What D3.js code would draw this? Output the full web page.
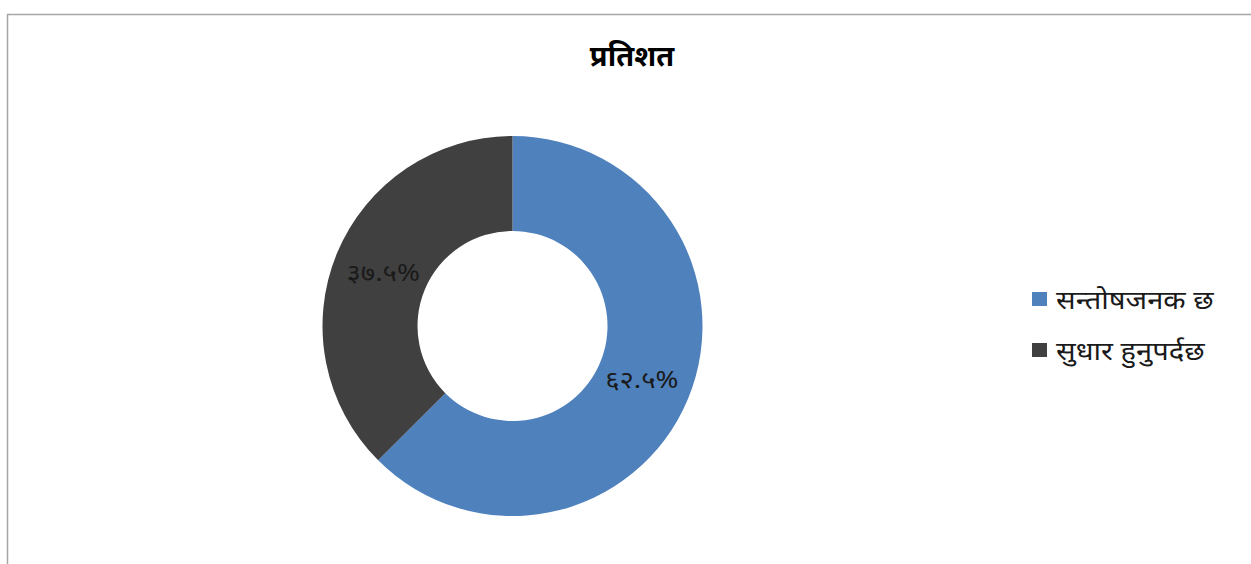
<!DOCTYPE html>
<html>
<head>
<meta charset="utf-8">
<script src="https://cdn.jsdelivr.net/npm/d3@7"></script>
<style>
  html, body { margin: 0; padding: 0; background: #fff; }
  svg { display: block; }
</style>
</head>
<body>
<svg id="chart" width="1251" height="564"></svg>
<script>
// Survey response shares
const categories = ["सन्तोषजनक छ", "सुधार हुनुपर्दछ"];
const values = [62.5, 37.5];
const valueLabels = ["६२.५%", "३७.५%"];
const colors = ["#4f81bd", "#404040"];
const title = "प्रतिशत";

const fontFamily = "'Noto Sans', 'Noto Sans Devanagari', 'Lohit Devanagari', serif";

const svg = d3.select("#chart");
const W = 1251, H = 564;

// chart frame
svg.append("rect")
  .attr("x", 7.5).attr("y", 14.5)
  .attr("width", W + 10).attr("height", H + 10)
  .attr("fill", "#fff").attr("stroke", "#a6a6a6").attr("stroke-width", 1.5);

svg.append("text")
  .attr("x", 632).attr("y", 66)
  .attr("text-anchor", "middle")
  .attr("font-family", fontFamily)
  .attr("font-size", 29).attr("font-weight", "bold")
  .attr("fill", "#000")
  .text(title);

const cx = 512.5, cy = 326, outerR = 190, innerR = 95;

const pie = d3.pie().sort(null).value(d => d)(values);
const arc = d3.arc().innerRadius(innerR).outerRadius(outerR);

const g = svg.append("g").attr("transform", `translate(${cx},${cy})`);
g.selectAll("path.slice")
  .data(pie)
  .join("path")
  .attr("class", "slice")
  .attr("d", arc)
  .attr("fill", (d, i) => colors[i]);

// value labels placed on the ring, centred at radius 140
const labelArc = d3.arc().innerRadius(90).outerRadius(190);
g.selectAll("text.val")
  .data(pie)
  .join("text")
  .attr("class", "val")
  .attr("transform", d => `translate(${labelArc.centroid(d)}) scale(1.15,1)`)
  .attr("text-anchor", "middle")
  .attr("dy", "0.35em")
  .attr("font-family", fontFamily)
  .attr("font-size", 24)
  .attr("fill", "#1a1a1a")
  .text((d, i) => valueLabels[i]);

// legend
const legend = svg.append("g").attr("transform", "translate(1032,292)");
const item = legend.selectAll("g")
  .data(categories)
  .join("g")
  .attr("transform", (d, i) => `translate(0,${i * 51})`);
item.append("rect")
  .attr("width", 15).attr("height", 14)
  .attr("fill", (d, i) => colors[i]);
item.append("text")
  .attr("transform", "translate(24,17) scale(1.12,1)")
  .attr("font-family", fontFamily)
  .attr("font-size", 26)
  .attr("fill", "#1a1a1a")
  .text(d => d);
</script>
</body>
</html>
